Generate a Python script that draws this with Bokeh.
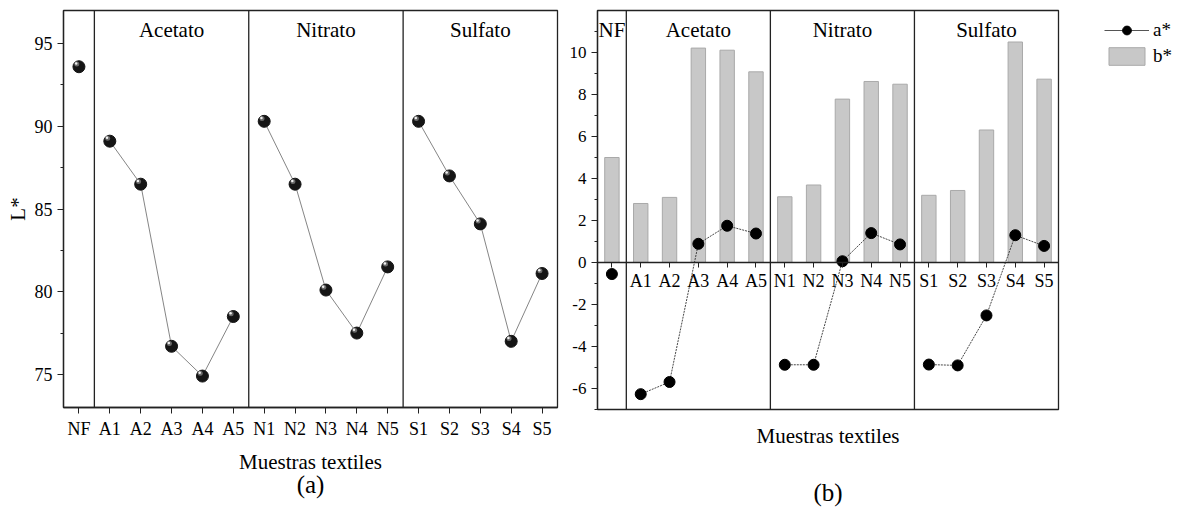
from bokeh.plotting import figure
from bokeh.layouts import row
from bokeh.models import (LinearAxis, FixedTicker, Span, Range1d, Legend, LegendItem,
                          Title, ColumnDataSource)
from bokeh.transform import dodge
from bokeh.core.properties import value
from bokeh.embed import file_html
from bokeh.resources import INLINE

# ---------------- data ----------------
samples = ["NF", "A1", "A2", "A3", "A4", "A5", "N1", "N2", "N3", "N4", "N5",
           "S1", "S2", "S3", "S4", "S5"]
groups = ["Acetato", "Nitrato", "Sulfato"]
group_of = ["NF"] + ["Acetato"] * 5 + ["Nitrato"] * 5 + ["Sulfato"] * 5
L_star = [93.6, 89.1, 86.5, 76.7, 74.9, 78.5, 90.3, 86.5, 80.1, 77.5, 81.5,
          90.3, 87.0, 84.1, 77.0, 81.1]
a_star = [-0.55, -6.27, -5.69, 0.89, 1.75, 1.38, -4.87, -4.87, 0.06, 1.40, 0.86,
          -4.86, -4.90, -2.52, 1.30, 0.79]
b_star = [5.0, 2.81, 3.10, 10.21, 10.11, 9.08, 3.13, 3.69, 7.78, 8.62, 8.49,
          3.20, 3.43, 6.31, 10.50, 8.73]
L_ticks = [75, 80, 85, 90, 95]
ab_ticks = [-6, -4, -2, 0, 2, 4, 6, 8, 10]

FONT = "Liberation Serif"
INK = "#222222"

idx = list(range(len(samples)))
group_idx = {g: [i for i, gg in enumerate(group_of) if gg == g] for g in groups}
dividers = [group_idx[g][0] - 0.5 for g in groups]
centers = [sum(group_idx[g]) / len(group_idx[g]) for g in groups]

src = ColumnDataSource(dict(x=idx, L=L_star, a=a_star, b=b_star, name=samples))


def style_axis(ax, label_size="17px"):
    ax.axis_line_color = INK
    ax.axis_line_width = 1.3
    ax.major_tick_line_color = INK
    ax.minor_tick_line_color = INK
    ax.major_tick_out = 6
    ax.major_tick_in = 0
    ax.minor_tick_out = 3
    ax.minor_tick_in = 0
    ax.major_label_text_font = FONT
    ax.major_label_text_font_size = label_size
    ax.major_label_text_color = "black"
    ax.axis_label_text_font = FONT
    ax.axis_label_text_font_size = "21px"
    ax.axis_label_text_font_style = "normal"
    ax.axis_label_text_color = "black"


def base_fig(fw, fh, yr, bl, br, bb):
    p = figure(frame_width=fw, frame_height=fh, x_range=Range1d(-0.5, 15.5), y_range=yr,
               output_backend="svg", toolbar_location=None,
               min_border_left=bl, min_border_right=br, min_border_top=10,
               min_border_bottom=bb)
    p.grid.visible = False
    p.outline_line_color = INK
    p.outline_line_width = 1.3
    p.outline_line_alpha = 1.0
    p.background_fill_color = "white"
    p.border_fill_color = "white"
    for d in dividers:
        p.add_layout(Span(location=d, dimension="height", line_color=INK, line_width=1.3))
    return p


# ---------------- panel (a) ----------------
p1 = base_fig(494, 397, Range1d(73, 97), 63, 3, 108)
xa1 = p1.xaxis[0]
xa1.ticker = FixedTicker(ticks=idx)
xa1.major_label_overrides = {i: s for i, s in zip(idx, samples)}
style_axis(xa1, "18px")
xa1.axis_label = "Muestras textiles"
xa1.axis_label_standoff = 8
ya1 = p1.yaxis[0]
ya1.ticker = FixedTicker(ticks=L_ticks, minor_ticks=[t + 2.5 for t in L_ticks])
style_axis(ya1, "18px")
ya1.axis_label = "L*"
ya1.axis_label_standoff = 2

for g in groups:
    ii = group_idx[g]
    p1.line([idx[i] for i in ii], [L_star[i] for i in ii], line_color="#666666",
             line_width=0.8)
p1.scatter("x", "L", source=src, size=12, color="#151515")
p1.scatter(x=dodge("x", -0.07), y=dodge("L", 0.17), source=src, size=5,
           color="#6a6a6a", line_color=None)
p1.scatter(x=dodge("x", -0.09), y=dodge("L", 0.2), source=src, size=2.5,
           color="#f0f0f0", line_color=None)

p1.text(x=centers, y=[95.8] * len(groups), text=groups, text_font=value(FONT),
        text_font_size="21px", text_align="center", text_baseline="middle",
        text_color="black")
p1.add_layout(Title(text="(a)", align="center", text_font=FONT, text_font_size="25px",
                    text_font_style="normal", text_color="black", standoff=-16), "below")

# ---------------- panel (b) ----------------
p2 = base_fig(461, 399, Range1d(-7, 12), 37, 124, 106)
xb = p2.xaxis[0]
xb.ticker = FixedTicker(ticks=[])
style_axis(xb)
xb.axis_line_color = None
xb.axis_label = "Muestras textiles"
xb.axis_label_standoff = 14
yb = p2.yaxis[0]
yb.ticker = FixedTicker(ticks=ab_ticks, minor_ticks=[t + 1 for t in ab_ticks] + [ab_ticks[0] - 1])
yb.major_label_overrides = {t: str(t) for t in ab_ticks}
style_axis(yb)

zero_axis = LinearAxis(fixed_location=0, ticker=FixedTicker(ticks=idx),
                       major_label_overrides={i: ("" if s == "NF" else s)
                                              for i, s in zip(idx, samples)})
style_axis(zero_axis, "18px")
zero_axis.major_tick_out = 5
zero_axis.major_label_standoff = 3
p2.add_layout(zero_axis, "below")

bars = p2.vbar(x="x", top="b", bottom=0, width=0.5, source=src,
               fill_color="#c8c8c8", line_color="#a9a9a9", line_width=1)
for g in groups:
    ii = group_idx[g]
    p2.line([idx[i] for i in ii], [a_star[i] for i in ii], line_color="#333333",
            line_width=0.9, line_dash="2 1")
dots = p2.scatter("x", "a", source=src, size=11, color="black")
# single-point line (draws nothing in the plot) used only for the solid legend stroke
legend_line = p2.line(x=[idx[0]], y=[a_star[0]], line_color="#555555", line_width=1)

p2.text(x=centers + [0], y=[11.08] * (len(groups) + 1), text=groups + [samples[0]],
        text_font=value(FONT), text_font_size="21px", text_align="center",
        text_baseline="middle", text_color="black")
p2.add_layout(Title(text="(b)", align="center", text_font=FONT, text_font_size="25px",
                    text_font_style="normal", text_color="black", standoff=53), "below")

legend = Legend(items=[LegendItem(label="a*", renderers=[legend_line, dots]),
                       LegendItem(label="b*", renderers=[bars])],
                location=(46, 342), glyph_width=45, glyph_height=22,
                label_text_font=FONT, label_text_font_size="19px",
                label_text_color="black",
                label_standoff=4, spacing=4, padding=3, margin=0,
                border_line_color=None, background_fill_alpha=0)
p2.add_layout(legend, "right")

layout = row(p1, p2)
open("out.html", "w").write(file_html(layout, INLINE))
